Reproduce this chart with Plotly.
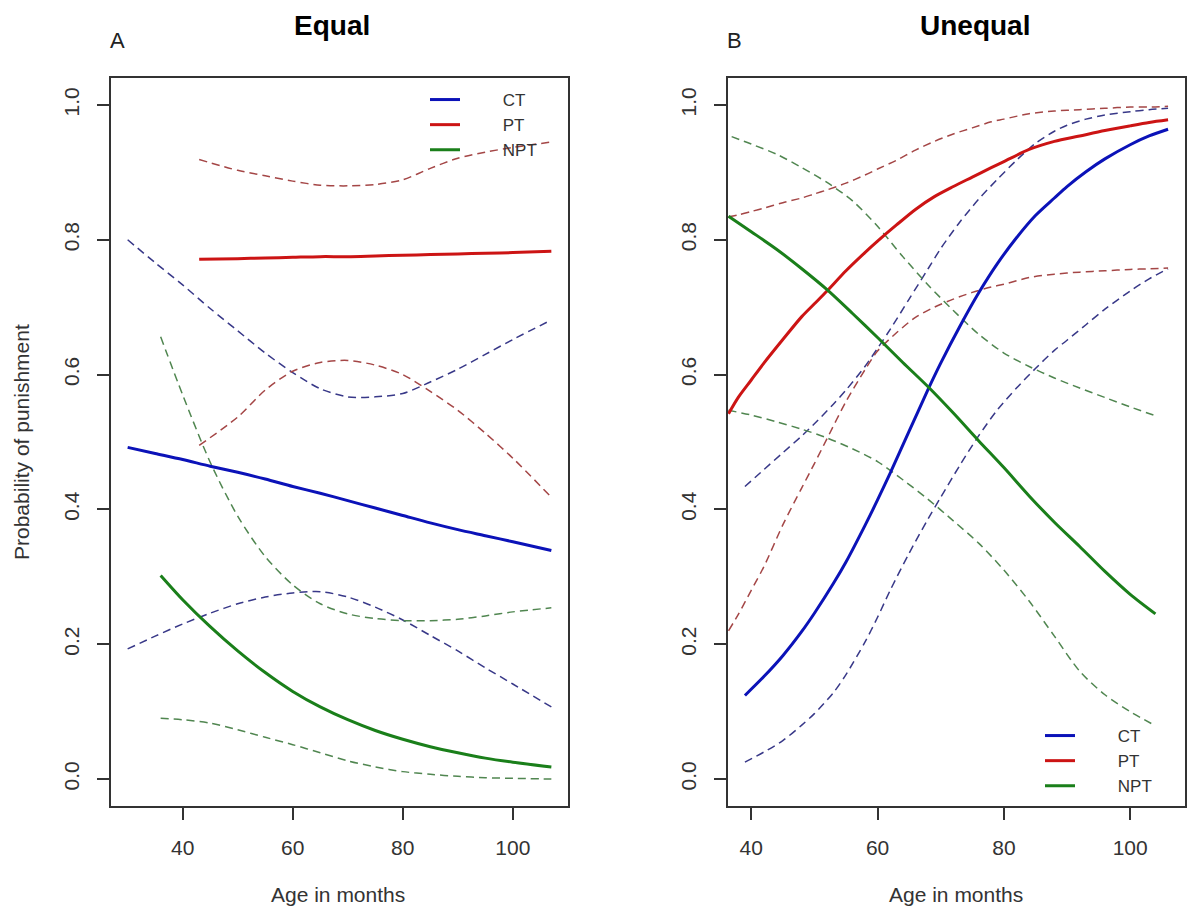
import plotly.graph_objects as go

# ---------------- data: panel A (Equal) ----------------
ct_a_x = [30, 35, 40, 45, 50, 55, 60, 65, 70, 75, 80, 85, 90, 95, 100, 107]
ct_a = [0.492, 0.483, 0.474, 0.464, 0.455, 0.445, 0.434, 0.424, 0.413, 0.402, 0.391, 0.380, 0.370, 0.361, 0.352, 0.339]
ct_a_hi = [0.800, 0.766, 0.733, 0.698, 0.665, 0.632, 0.603, 0.579, 0.567, 0.567, 0.572, 0.589, 0.608, 0.630, 0.652, 0.681]
ct_a_lo = [0.193, 0.212, 0.230, 0.246, 0.260, 0.270, 0.276, 0.278, 0.270, 0.255, 0.236, 0.213, 0.190, 0.165, 0.141, 0.107]

pt_a_x = [43, 50, 55, 60, 65, 70, 75, 80, 85, 90, 95, 100, 107]
pt_a = [0.771, 0.772, 0.773, 0.774, 0.775, 0.775, 0.776, 0.777, 0.778, 0.779, 0.780, 0.781, 0.783]
pt_a_hi = [0.919, 0.903, 0.895, 0.887, 0.881, 0.880, 0.882, 0.889, 0.906, 0.921, 0.930, 0.937, 0.945]
pt_a_lo = [0.495, 0.537, 0.577, 0.605, 0.618, 0.621, 0.614, 0.600, 0.575, 0.547, 0.513, 0.476, 0.418]

npt_a_x = [36, 40, 45, 50, 55, 60, 65, 70, 75, 80, 85, 90, 95, 100, 107]
npt_a = [0.302, 0.266, 0.226, 0.190, 0.158, 0.130, 0.107, 0.088, 0.072, 0.059, 0.048, 0.039, 0.031, 0.025, 0.018]
npt_a_hi = [0.656, 0.570, 0.470, 0.390, 0.330, 0.288, 0.260, 0.245, 0.238, 0.235, 0.235, 0.237, 0.242, 0.248, 0.254]
npt_a_lo = [0.090, 0.088, 0.083, 0.073, 0.062, 0.051, 0.039, 0.027, 0.018, 0.011, 0.007, 0.004, 0.002, 0.001, 0.000]

# ---------------- data: panel B (Unequal) ----------------
ct_b_x = [39, 42, 45, 48, 50, 53, 55, 58, 60, 62, 65, 68, 70, 73, 76, 79, 82, 85, 88, 90, 93, 96, 100, 103, 106]
ct_b = [0.124, 0.152, 0.183, 0.219, 0.246, 0.290, 0.322, 0.376, 0.414, 0.454, 0.516, 0.578, 0.617, 0.671, 0.721, 0.765, 0.803, 0.836, 0.862, 0.879, 0.901, 0.920, 0.941, 0.954, 0.964]
ct_b_hi = [0.434, 0.459, 0.484, 0.509, 0.527, 0.556, 0.577, 0.612, 0.639, 0.667, 0.712, 0.757, 0.787, 0.826, 0.860, 0.890, 0.918, 0.943, 0.961, 0.970, 0.979, 0.985, 0.990, 0.993, 0.995]
ct_b_lo = [0.025, 0.040, 0.057, 0.080, 0.097, 0.128, 0.155, 0.203, 0.240, 0.280, 0.335, 0.386, 0.418, 0.465, 0.509, 0.548, 0.580, 0.609, 0.636, 0.651, 0.674, 0.697, 0.724, 0.742, 0.757]

pt_b_x = [36.4, 38, 40, 42, 45, 48, 50, 52, 55, 58, 60, 63, 66, 69, 72, 75, 78, 80, 84, 88, 92, 96, 100, 103, 106]
pt_b = [0.542, 0.567, 0.592, 0.617, 0.652, 0.686, 0.705, 0.724, 0.754, 0.781, 0.798, 0.822, 0.845, 0.864, 0.879, 0.893, 0.907, 0.916, 0.934, 0.946, 0.954, 0.962, 0.969, 0.974, 0.978]
pt_b_hi = [0.834, 0.837, 0.842, 0.847, 0.855, 0.862, 0.868, 0.874, 0.884, 0.896, 0.905, 0.918, 0.933, 0.946, 0.957, 0.966, 0.975, 0.979, 0.987, 0.991, 0.993, 0.995, 0.997, 0.997, 0.998]
pt_b_lo = [0.220, 0.245, 0.280, 0.315, 0.377, 0.432, 0.468, 0.505, 0.560, 0.607, 0.635, 0.662, 0.685, 0.700, 0.712, 0.722, 0.730, 0.734, 0.744, 0.749, 0.752, 0.754, 0.756, 0.757, 0.758]

npt_b_x = [36.4, 40, 44, 48, 52, 56, 60, 64, 68, 72, 76, 80, 84, 88, 92, 96, 100, 104]
npt_b = [0.835, 0.812, 0.786, 0.757, 0.726, 0.691, 0.655, 0.618, 0.582, 0.543, 0.502, 0.462, 0.420, 0.381, 0.345, 0.308, 0.274, 0.245]
npt_b_hi_x = [36.9, 40, 44, 48, 52, 56, 60, 64, 68, 72, 76, 80, 84, 88, 92, 96, 100, 104]
npt_b_hi = [0.953, 0.942, 0.927, 0.907, 0.885, 0.858, 0.820, 0.775, 0.733, 0.695, 0.660, 0.632, 0.612, 0.595, 0.580, 0.566, 0.552, 0.539]
npt_b_lo = [0.547, 0.540, 0.530, 0.519, 0.506, 0.490, 0.471, 0.444, 0.415, 0.383, 0.350, 0.310, 0.264, 0.212, 0.160, 0.125, 0.100, 0.079]

y_ticks = [0.0, 0.2, 0.4, 0.6, 0.8, 1.0]
y_tick_text = ["0.0", "0.2", "0.4", "0.6", "0.8", "1.0"]
x_ticks = [40, 60, 80, 100]
groups = ["CT", "PT", "NPT"]

# ---------------- styling ----------------
W, H = 1187, 916
FONT = "Liberation Sans, Arial, Helvetica, sans-serif"
solid_col = {"CT": "#0b12b8", "PT": "#cc1414", "NPT": "#1a7f1a"}
dash_col = {"CT": "#383888", "PT": "#a44646", "NPT": "#508650"}
DASH = "8px,5px"
PAD = "\u00a0" * 8


def px_x(p):
    return p / W


def px_y(p):
    return 1 - p / H


fig = go.Figure()

panels = [
    ("x", "y", "legend", {
        "CT": (ct_a_x, ct_a, ct_a_x, ct_a_hi, ct_a_x, ct_a_lo),
        "PT": (pt_a_x, pt_a, pt_a_x, pt_a_hi, pt_a_x, pt_a_lo),
        "NPT": (npt_a_x, npt_a, npt_a_x, npt_a_hi, npt_a_x, npt_a_lo),
    }),
    ("x2", "y2", "legend2", {
        "CT": (ct_b_x, ct_b, ct_b_x, ct_b_hi, ct_b_x, ct_b_lo),
        "PT": (pt_b_x, pt_b, pt_b_x, pt_b_hi, pt_b_x, pt_b_lo),
        "NPT": (npt_b_x, npt_b, npt_b_hi_x, npt_b_hi, npt_b_x, npt_b_lo),
    }),
]

for xa, ya, leg, series in panels:
    # dashed confidence bands first
    for g in groups:
        sx, sy, hx, hy, lx, ly = series[g]
        for bx, by in ((hx, hy), (lx, ly)):
            fig.add_trace(go.Scatter(
                x=bx, y=by, mode="lines", xaxis=xa, yaxis=ya,
                line=dict(color=dash_col[g], width=1.5, dash=DASH, shape="spline", smoothing=0.8),
                showlegend=False, hoverinfo="skip"))
    for g in groups:
        sx, sy, hx, hy, lx, ly = series[g]
        fig.add_trace(go.Scatter(
            x=sx, y=sy, mode="lines", xaxis=xa, yaxis=ya,
            name=PAD + g, legend=leg,
            line=dict(color=solid_col[g], width=3, shape="spline", smoothing=0.8),
            showlegend=True))

axis_common = dict(
    showgrid=False, zeroline=False, showline=True, mirror=True,
    linecolor="#333333", linewidth=1.6,
    ticks="outside", ticklen=12, tickwidth=1.5, tickcolor="#333333",
    tickfont=dict(family=FONT, size=21, color="#333333"),
    ticklabelstandoff=10,
)

y_dom = [px_y(806), px_y(78)]
fig.update_layout(
    width=W, height=H,
    margin=dict(l=0, r=0, t=0, b=0),
    paper_bgcolor="white", plot_bgcolor="white",
    font=dict(family=FONT, color="#333333"),
    xaxis=dict(domain=[px_x(110.7), px_x(568.3)], range=[26.92, 110.08],
               tickvals=x_ticks, anchor="y", **axis_common),
    yaxis=dict(domain=y_dom, range=[-0.04, 1.04], tickvals=y_ticks, ticktext=y_tick_text,
               tickangle=-90, anchor="x", **axis_common),
    xaxis2=dict(domain=[px_x(728), px_x(1185)], range=[36.32, 108.68],
                tickvals=x_ticks, anchor="y2", **axis_common),
    yaxis2=dict(domain=y_dom, range=[-0.04, 1.04], tickvals=y_ticks, ticktext=y_tick_text,
                tickangle=-90, anchor="x2", **axis_common),
    legend=dict(x=px_x(425), y=px_y(82), xanchor="left", yanchor="top",
                bgcolor="rgba(0,0,0,0)", font=dict(family=FONT, size=17, color="#333333"),
                traceorder="normal"),
    legend2=dict(x=px_x(1040), y=px_y(718), xanchor="left", yanchor="top",
                 bgcolor="rgba(0,0,0,0)", font=dict(family=FONT, size=17, color="#333333"),
                 traceorder="normal"),
)

annotations = [
    dict(text="<b>Equal</b>", x=px_x(332), y=px_y(25), font=dict(size=28, color="#000000")),
    dict(text="<b>Unequal</b>", x=px_x(975), y=px_y(25), font=dict(size=28, color="#000000")),
    dict(text="A", x=px_x(117), y=px_y(41), font=dict(size=22, color="#222222")),
    dict(text="B", x=px_x(734), y=px_y(41), font=dict(size=22, color="#222222")),
    dict(text="Age in months", x=px_x(338), y=px_y(894), font=dict(size=21, color="#333333")),
    dict(text="Age in months", x=px_x(956), y=px_y(894), font=dict(size=21, color="#333333")),
    dict(text="Probability of punishment", x=px_x(22), y=px_y(442), textangle=-90,
         font=dict(size=21, color="#333333")),
]
for a in annotations:
    a.update(xref="paper", yref="paper", showarrow=False, xanchor="center", yanchor="middle")
    a["font"]["family"] = FONT
fig.update_layout(annotations=annotations)

fig.write_html("out.html")
